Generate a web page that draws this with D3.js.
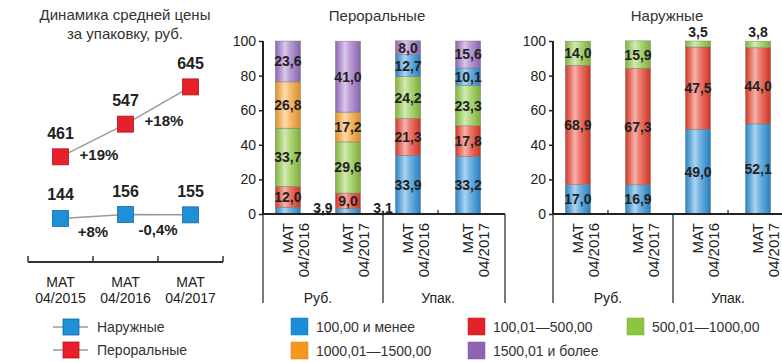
<!DOCTYPE html>
<html>
<head>
<meta charset="utf-8">
<script src="https://cdn.jsdelivr.net/npm/d3@7"></script>
<style>
  body { margin: 0; background: #fff; }
  svg { display: block; font-family: "Liberation Sans", Arial, sans-serif; }
</style>
</head>
<body>
<svg id="chart" width="782" height="362"></svg>
<script>
// --- Average price per package ---
const periods = ["MAT 04/2015", "MAT 04/2016", "MAT 04/2017"];
const externalPrice = [144, 156, 155];
const oralPrice = [461, 547, 645];
const externalGrowth = ["+8%", "-0,4%"];
const oralGrowth = ["+19%", "+18%"];

// --- Structure by price band, % ---
const priceBands = ["100,00 и менее", "100,01—500,00", "500,01—1000,00", "1000,01—1500,00", "1500,01 и более"];
const barPeriods = ["MAT 04/2016", "MAT 04/2017"];
const measures = ["Руб.", "Упак."];
// rows: Руб. 2016, Руб. 2017, Упак. 2016, Упак. 2017
const oralShares = [
  [3.9, 12.0, 33.7, 26.8, 23.6],
  [3.1, 9.0, 29.6, 17.2, 41.0],
  [33.9, 21.3, 24.2, 12.7, 8.0],
  [33.2, 17.8, 23.3, 10.1, 15.6]
];
const externalShares = [
  [17.0, 68.9, 14.0],
  [16.9, 67.3, 15.9],
  [49.0, 47.5, 3.5],
  [52.1, 44.0, 3.8]
];
const shareTicks = [0, 20, 40, 60, 80, 100];

const bandColors = ["#2b8fd6", "#e63a27", "#8cc63f", "#f6a02c", "#9a70c2"];
const legendColors = ["#1b8dd6", "#e3212b", "#8cc63f", "#f7961f", "#8f64b3"];

const svg = d3.select("#chart");
const defs = svg.append("defs");
const fmt = v => d3.format(".1f")(v).replace(".", ",");
const textColor = "#222";

// cylinder-like shading for bar segments
bandColors.forEach((c, i) => {
  const g = defs.append("linearGradient").attr("id", "grad" + i)
    .attr("x1", "0%").attr("x2", "100%").attr("y1", "0%").attr("y2", "0%");
  const base = d3.color(c);
  g.append("stop").attr("offset", "0%").attr("stop-color", base.darker(0.25));
  g.append("stop").attr("offset", "38%").attr("stop-color", d3.interpolateRgb(c, "#fff")(0.62));
  g.append("stop").attr("offset", "55%").attr("stop-color", d3.interpolateRgb(c, "#fff")(0.35));
  g.append("stop").attr("offset", "100%").attr("stop-color", base.darker(0.35));
});

// ================= Left: line chart =================
const lx = d3.scaleBand().domain(periods).range([28, 223]);
const ly = d3.scaleLinear().domain([100, 200, 400, 700]).range([233, 200, 180, 66]);
const cxOf = i => lx(periods[i]) + lx.bandwidth() / 2;

svg.append("text").attr("x", 125).attr("y", 20).attr("text-anchor", "middle")
  .attr("font-size", 15).attr("fill", "#333").text("Динамика средней цены");
svg.append("text").attr("x", 125).attr("y", 39).attr("text-anchor", "middle")
  .attr("font-size", 15).attr("fill", "#333").text("за упаковку, руб.");

const lxAxis = svg.append("g").attr("transform", "translate(0,262)")
  .call(d3.axisBottom(lx).tickSize(0).tickFormat(""));
lxAxis.select(".domain").attr("stroke", "#333").attr("stroke-width", 2).attr("d", "M28,0H223");
svg.append("g").selectAll("line")
  .data([28, ...periods.map(p => lx(p) + lx.bandwidth())])
  .join("line")
  .attr("x1", d => d).attr("x2", d => d).attr("y1", 262).attr("y2", 256)
  .attr("stroke", "#333").attr("stroke-width", 1.5);

const lxLabels = svg.append("g").selectAll("text").data(periods).join("text")
  .attr("text-anchor", "middle").attr("font-size", 14).attr("fill", textColor);
lxLabels.append("tspan").attr("x", (d, i) => cxOf(i)).attr("y", 287).text(d => d.split(" ")[0]);
lxLabels.append("tspan").attr("x", (d, i) => cxOf(i)).attr("y", 303).text(d => d.split(" ")[1]);

const lineGen = d3.line().x((d, i) => cxOf(i)).y(d => ly(d));
const lineSeries = [
  { values: oralPrice, growth: oralGrowth, fill: "#e8202a", stroke: "#b3121a", growthDx: 6 },
  { values: externalPrice, growth: externalGrowth, fill: "#1d90d8", stroke: "#1268a8", growthDx: 0 }
];
lineSeries.forEach(s => {
  svg.append("path").datum(s.values).attr("d", lineGen)
    .attr("fill", "none").attr("stroke", "#9a9a9a").attr("stroke-width", 1.5);
  svg.append("g").selectAll("rect").data(s.values).join("rect")
    .attr("x", (d, i) => cxOf(i) - 8)
    .attr("y", d => ly(d) - 8).attr("width", 16).attr("height", 16)
    .attr("fill", s.fill).attr("stroke", s.stroke).attr("stroke-width", 0.8);
  svg.append("g").selectAll("text").data(s.values).join("text")
    .attr("x", (d, i) => cxOf(i))
    .attr("y", d => ly(d) - 18).attr("text-anchor", "middle")
    .attr("font-size", 16).attr("font-weight", "bold").attr("fill", textColor)
    .text(d => d);
  // growth between neighbouring periods, set just below the segment
  svg.append("g").selectAll("text").data(s.growth).join("text")
    .attr("x", (d, i) => (cxOf(i) + cxOf(i + 1)) / 2 + s.growthDx)
    .attr("y", (d, i) => (ly(s.values[i]) + ly(s.values[i + 1])) / 2 + 20)
    .attr("text-anchor", "middle")
    .attr("font-size", 15).attr("font-weight", "bold").attr("fill", textColor)
    .text(d => d);
});

// legend for the line chart
[{ name: "Наружные", fill: "#1d90d8", stroke: "#1268a8" },
 { name: "Пероральные", fill: "#e8202a", stroke: "#b3121a" }].forEach((d, i) => {
  const y = 327 + i * 23;
  svg.append("line").attr("x1", 53).attr("x2", 88).attr("y1", y).attr("y2", y)
    .attr("stroke", "#9a9a9a").attr("stroke-width", 1.5);
  svg.append("rect").attr("x", 63).attr("y", y - 8).attr("width", 16).attr("height", 16)
    .attr("fill", d.fill).attr("stroke", d.stroke).attr("stroke-width", 0.8);
  svg.append("text").attr("x", 97).attr("y", y + 5).attr("font-size", 14)
    .attr("fill", "#333").text(d.name);
});

// ================= Stacked bar panels =================
function stackedPanel(axisX, title, shares, bandCount, colorOf) {
  const ids = [];
  measures.forEach(m => barPeriods.forEach(p => ids.push(m + "|" + p)));
  const x = d3.scaleBand().domain(ids).range([axisX - 5, axisX + 235])
    .paddingInner(0.583).paddingOuter(0.29);
  const y = d3.scaleLinear().domain([0, 100]).range([214, 41]);
  const g = svg.append("g");

  g.append("text").attr("x", axisX + 114).attr("y", 21).attr("text-anchor", "middle")
    .attr("font-size", 15).attr("fill", "#333").text(title);

  // y axis
  const yAxis = g.append("g").attr("transform", `translate(${axisX},0)`)
    .call(d3.axisLeft(y).tickValues(shareTicks).tickSize(4).tickPadding(3));
  yAxis.select(".domain").attr("stroke", "#222").attr("stroke-width", 2).attr("d", "M0,41V214");
  yAxis.selectAll(".tick line").attr("stroke", "#222").attr("stroke-width", 1.5);
  yAxis.selectAll(".tick text").attr("font-size", 14).attr("fill", textColor)
    .attr("font-family", "Liberation Sans, Arial, sans-serif");

  const stack = d3.stack().keys(d3.range(bandCount));
  const rows = shares.map(r => r.slice(0, bandCount));
  const series = stack(rows);

  series.forEach((s, k) => {
    s.forEach((seg, i) => {
      const id = ids[i];
      const measure = id.split("|")[0];
      const ci = colorOf(k, measure);
      g.append("rect")
        .attr("x", x(id)).attr("width", x.bandwidth())
        .attr("y", y(seg[1])).attr("height", y(seg[0]) - y(seg[1]))
        .attr("fill", `url(#grad${ci})`)
        .attr("stroke", "#6d6d6d").attr("stroke-width", 0.6).attr("stroke-opacity", 0.7);
    });
  });

  // segment value labels
  series.forEach((s, k) => {
    s.forEach((seg, i) => {
      const id = ids[i];
      const v = rows[i][k];
      const cx = x(id) + x.bandwidth() / 2;
      let tx = cx, ty = (y(seg[0]) + y(seg[1])) / 2 + 5;
      if (v < 5) {
        if (k === 0) { tx = cx + 35; ty = y(0) - 1; }
        else { ty = y(seg[1]) - 4; }
      }
      g.append("text").attr("x", tx).attr("y", ty).attr("text-anchor", "middle")
        .attr("font-size", 14).attr("font-weight", "bold").attr("fill", textColor)
        .text(fmt(v));
    });
  });

  // x axis and group dividers
  g.append("line").attr("x1", axisX).attr("x2", axisX + 242).attr("y1", 214).attr("y2", 214)
    .attr("stroke", "#222").attr("stroke-width", 2);
  measures.forEach(m => {
    const a = x(m + "|" + barPeriods[0]) + x.bandwidth() / 2;
    const b = x(m + "|" + barPeriods[1]) + x.bandwidth() / 2;
    g.append("line").attr("x1", (a + b) / 2).attr("x2", (a + b) / 2).attr("y1", 214).attr("y2", 210)
      .attr("stroke", "#222").attr("stroke-width", 1.2);
    g.append("text").attr("x", (a + b) / 2).attr("y", 303).attr("text-anchor", "middle")
      .attr("font-size", 14).attr("fill", textColor).text(m);
  });
  [axisX, axisX + 120, axisX + 242].forEach(px => {
    g.append("line").attr("x1", px).attr("x2", px).attr("y1", 214).attr("y2", 303)
      .attr("stroke", "#222").attr("stroke-width", 1.2);
  });

  // rotated period labels
  ids.forEach(id => {
    const p = id.split("|")[1];
    const cx = x(id) + x.bandwidth() / 2;
    const t = g.append("text")
      .attr("transform", `translate(${cx + 5},223) rotate(-90)`)
      .attr("text-anchor", "end").attr("font-size", 15).attr("fill", textColor);
    t.append("tspan").attr("x", 0).attr("y", 0).text(p.split(" ")[0]);
    t.append("tspan").attr("x", 0).attr("y", 16).text(p.split(" ")[1]);
  });
}

// In the package view of oral drugs the 1000,01—1500,00 band is printed in blue
stackedPanel(263, "Пероральные", oralShares, 5, (k, m) => (m === "Упак." && k === 3) ? 0 : k);
stackedPanel(553, "Наружные", externalShares, 3, k => k);

// ================= Price band legend =================
const legendPos = [[291, 327], [468, 327], [627, 327], [291, 351], [468, 351]];
priceBands.forEach((b, i) => {
  const [lx0, ly0] = legendPos[i];
  svg.append("rect").attr("x", lx0).attr("y", ly0 - 9).attr("width", 17).attr("height", 17)
    .attr("fill", legendColors[i]).attr("stroke", d3.color(legendColors[i]).darker(0.4)).attr("stroke-width", 0.5);
  svg.append("text").attr("x", lx0 + 25).attr("y", ly0 + 5).attr("font-size", 14)
    .attr("fill", "#333").text(b);
});
</script>
</body>
</html>
